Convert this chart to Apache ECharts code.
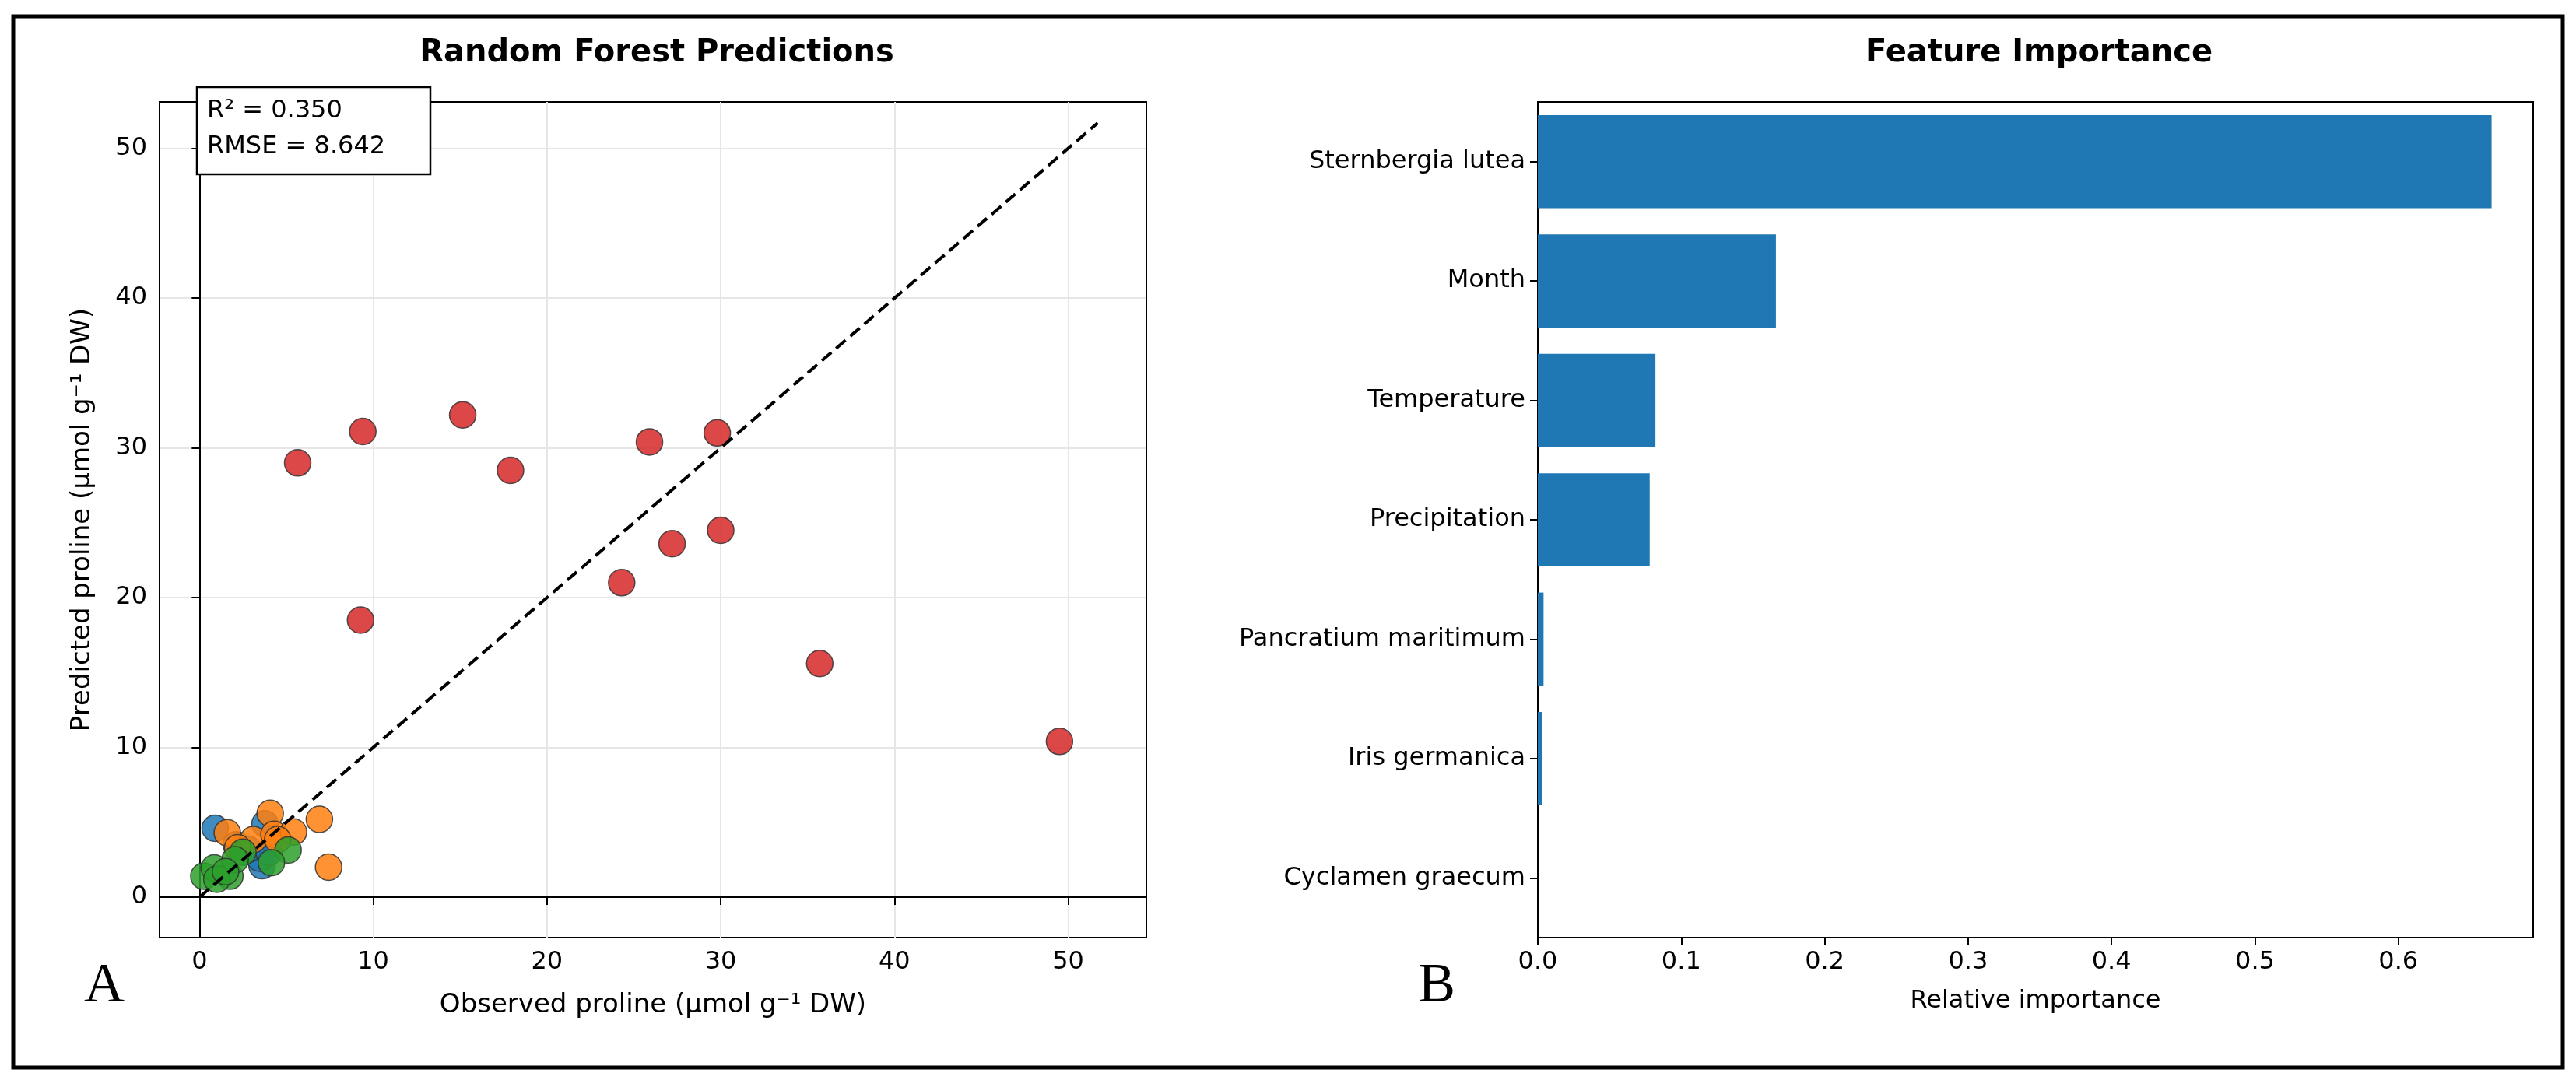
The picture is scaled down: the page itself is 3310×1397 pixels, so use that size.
<!DOCTYPE html>
<html>
<head>
<meta charset="utf-8">
<script src="https://cdn.jsdelivr.net/npm/echarts@6/dist/echarts.min.js"></script>
<style>
  html, body { margin: 0; padding: 0; background: #fff; }
  #chart { width: 3310px; height: 1397px; }
</style>
</head>
<body>
<div id="chart"></div>
<script>
// scatter groups [observed, predicted]
const redPoints = [
  [5.65, 29.0], [9.4, 31.1], [15.15, 32.2], [17.9, 28.5], [25.9, 30.4], [29.8, 31.0],
  [27.2, 23.6], [30.0, 24.5], [24.3, 21.0], [9.27, 18.5], [35.7, 15.6], [49.5, 10.4]
]
const bluePoints = [
  [0.9, 4.6], [3.77, 4.9], [2.12, 3.5], [3.6, 2.1], [3.47, 2.6], [2.8, 3.2], [4.0, 3.0]
]
const orangePoints = [
  [4.07, 5.6], [1.6, 4.3], [3.1, 3.85], [4.29, 4.2], [5.41, 4.35], [6.9, 5.2],
  [7.43, 2.0], [2.2, 3.3], [4.5, 3.85]
]
const greenPoints = [
  [2.5, 3.0], [5.1, 3.15], [4.14, 2.3], [0.25, 1.4], [0.85, 1.95], [1.75, 1.4],
  [1.0, 1.2], [2.05, 2.5], [1.5, 1.7]
]
const identityLine = [[0, 0], [51.7, 51.7]]

const features = [
  'Sternbergia lutea', 'Month', 'Temperature', 'Precipitation',
  'Pancratium maritimum', 'Iris germanica', 'Cyclamen graecum'
]
const importance = [0.665, 0.166, 0.082, 0.078, 0.004, 0.003, 0.0]

const font = 'DejaVu Sans'
const axisLine = { show: true, lineStyle: { color: '#000', width: 2 } }
const gridLine = { show: true, lineStyle: { color: '#e6e6e6', width: 2 } }

function scatter(data, color) {
  return {
    type: 'scatter', xAxisIndex: 0, yAxisIndex: 0, data: data,
    symbolSize: 34,
    itemStyle: { color: color, opacity: 0.85, borderColor: '#333', borderWidth: 1.5 }
  }
}

const chart = echarts.init(document.getElementById('chart'))

const option = {
  backgroundColor: '#fff',
  animation: false,
  textStyle: { fontFamily: font },
  title: [
    { text: 'Random Forest Predictions', left: 839, top: 44, textAlign: 'center',
      textStyle: { fontSize: 40, fontWeight: 'bold', color: '#000' } },
    { text: 'Feature Importance', left: 2615, top: 44, textAlign: 'center',
      textStyle: { fontSize: 40, fontWeight: 'bold', color: '#000' } }
  ],
  grid: [
    { left: 205, top: 131, width: 1268, height: 1074, show: true, borderColor: '#000', borderWidth: 2, containLabel: false },
    { left: 1976, top: 131, width: 1279, height: 1074, show: true, borderColor: '#000', borderWidth: 2, containLabel: false }
  ],
  xAxis: [
    { type: 'value', gridIndex: 0, min: -2.3, max: 54.5, interval: 10,
      axisLine: axisLine, axisTick: { show: true, length: 10, lineStyle: { width: 2 } },
      splitLine: gridLine,
      axisLabel: { fontSize: 32, color: '#000', margin: 16, formatter: v => (v % 10 === 0 && v >= 0) ? v : '',
        customValues: [0, 10, 20, 30, 40, 50] },
      axisTick: { show: true, length: 10, lineStyle: { width: 2 }, customValues: [0, 10, 20, 30, 40, 50] },
      name: 'Observed proline (µmol g⁻¹ DW)', nameLocation: 'middle', nameGap: 70,
      nameTextStyle: { fontSize: 34, color: '#000' } },
    { type: 'value', gridIndex: 1, min: 0, max: 0.694, interval: 0.1,
      axisLine: axisLine, axisTick: { show: true, length: 10, lineStyle: { width: 2 } },
      splitLine: { show: false },
      axisLabel: { fontSize: 32, color: '#000', margin: 16, showMaxLabel: false, formatter: v => v.toFixed(1) },
      name: 'Relative importance', nameLocation: 'middle', nameGap: 66,
      nameTextStyle: { fontSize: 32, color: '#000' } }
  ],
  yAxis: [
    { type: 'value', gridIndex: 0, min: -2.7, max: 53.1,
      axisLine: axisLine,
      splitLine: gridLine,
      axisLabel: { fontSize: 32, color: '#000', margin: 16, customValues: [0, 10, 20, 30, 40, 50] },
      axisTick: { show: true, length: 10, lineStyle: { width: 2 }, customValues: [0, 10, 20, 30, 40, 50] },
      name: 'Predicted proline (µmol g⁻¹ DW)', nameLocation: 'middle', nameGap: 82,
      nameTextStyle: { fontSize: 34, color: '#000' } },
    { type: 'category', gridIndex: 1, data: features, inverse: true,
      axisLine: axisLine, axisTick: { show: true, length: 10, alignWithLabel: true, lineStyle: { width: 2 } },
      axisLabel: { fontSize: 32, color: '#000', margin: 16 } }
  ],
  series: [
    scatter(bluePoints, '#1f77b4'),
    scatter(orangePoints, '#ff7f0e'),
    scatter(greenPoints, '#2ca02c'),
    scatter(redPoints, '#d62728'),
    { type: 'line', xAxisIndex: 0, yAxisIndex: 0, data: identityLine, symbol: 'none', z: 5,
      lineStyle: { color: '#000', width: 4, type: [16, 8] } },
    { type: 'bar', xAxisIndex: 1, yAxisIndex: 1, data: importance, barWidth: '78%',
      itemStyle: { color: '#1f77b4' } }
  ],
  graphic: [
    { type: 'rect', shape: { x: 17, y: 21, width: 3276, height: 1351 },
      style: { fill: 'none', stroke: '#000', lineWidth: 5 }, z: 100 },
    { type: 'rect', shape: { x: 253, y: 112, width: 300, height: 112 },
      style: { fill: '#fff', stroke: '#000', lineWidth: 2.5 }, z: 100 },
    { type: 'text', x: 266, y: 120, z: 101,
      style: { text: 'R² = 0.350\nRMSE = 8.642', fontSize: 32, lineHeight: 46, fill: '#000', fontFamily: font } },
    { type: 'text', x: 108, y: 1232, z: 101,
      style: { text: 'A', fontSize: 72, fill: '#000', fontFamily: 'Liberation Serif' } },
    { type: 'text', x: 1822, y: 1232, z: 101,
      style: { text: 'B', fontSize: 72, fill: '#000', fontFamily: 'Liberation Serif' } }
  ]
}

chart.setOption(option)
</script>
</body>
</html>
